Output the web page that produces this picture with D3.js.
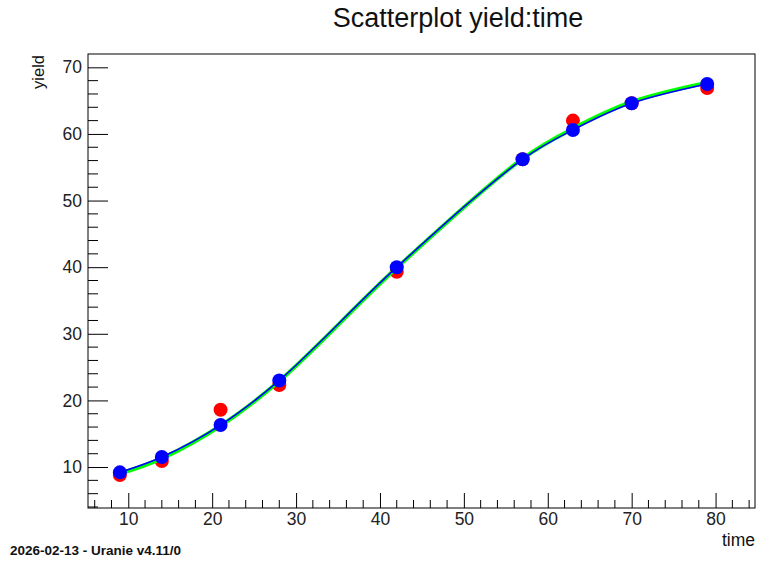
<!DOCTYPE html>
<html>
<head>
<meta charset="utf-8">
<script src="https://cdn.jsdelivr.net/npm/d3@7"></script>
<style>
  body { margin: 0; background: #fff; }
  text { font-family: "Liberation Sans", Arial, sans-serif; }
</style>
</head>
<body>
<div id="chart"></div>
<script>
var w = 757;
var h = 563;

// data
var times = [9, 14, 21, 28, 42, 57, 63, 70, 79];
var yieldObs = [8.8, 10.9, 18.6, 22.3, 39.3, 56.2, 62.0, 64.6, 66.9];
var yieldPred = [9.2, 11.5, 16.3, 23.0, 40.0, 56.2, 60.6, 64.6, 67.5];
var yieldFit = [9.0, 11.3, 16.2, 22.9, 39.9, 56.3, 60.8, 64.8, 67.7];
var xTicks = [10, 20, 30, 40, 50, 60, 70, 80];
var yTicks = [10, 20, 30, 40, 50, 60, 70];

var padL = 88, padR = 755, padT = 54, padB = 508;

var x = d3.scaleLinear().domain([5.2, 84.7]).range([padL, padR]);
var y = d3.scaleLinear().domain([3.85, 72]).range([padB, padT]);

var svg = d3.select("#chart")
    .append("svg")
    .attr("width", w)
    .attr("height", h);

// frame
svg.append("rect")
    .attr("x", padL)
    .attr("y", padT)
    .attr("width", padR - padL)
    .attr("height", padB - padT)
    .attr("fill", "none")
    .attr("stroke", "#000")
    .attr("stroke-width", 1);

// x axis, ticks inward
var xAxis = d3.axisBottom(x)
    .tickValues(xTicks)
    .tickSize(-15)
    .tickPadding(5)
    .tickFormat(d3.format("d"));
var gx = svg.append("g")
    .attr("transform", "translate(0," + padB + ")")
    .call(xAxis);
gx.select(".domain").remove();
gx.selectAll("text").attr("font-size", 17.5).attr("fill", "#222");

var xMinor = d3.range(6, 85, 2).filter(function(d) { return d % 10 != 0; });
svg.append("g").selectAll("line")
    .data(xMinor)
    .enter()
    .append("line")
    .attr("x1", function(d) { return x(d); })
    .attr("x2", function(d) { return x(d); })
    .attr("y1", padB)
    .attr("y2", padB - 8)
    .attr("stroke", "#000");

// y axis, ticks inward
var yAxis = d3.axisLeft(y)
    .tickValues(yTicks)
    .tickSize(-20)
    .tickPadding(6)
    .tickFormat(d3.format("d"));
var gy = svg.append("g")
    .attr("transform", "translate(" + padL + ",0)")
    .call(yAxis);
gy.select(".domain").remove();
gy.selectAll("text").attr("font-size", 17.5).attr("fill", "#222");

var yMinor = d3.range(4, 72, 2).filter(function(d) { return d % 10 != 0; });
svg.append("g").selectAll("line")
    .data(yMinor)
    .enter()
    .append("line")
    .attr("x1", padL)
    .attr("x2", padL + 10)
    .attr("y1", function(d) { return y(d); })
    .attr("y2", function(d) { return y(d); })
    .attr("stroke", "#000");

// observed points
svg.append("g").selectAll("circle")
    .data(times)
    .enter()
    .append("circle")
    .attr("cx", function(d) { return x(d); })
    .attr("cy", function(d, i) { return y(yieldObs[i]); })
    .attr("r", 7)
    .attr("fill", "#ff0000");

var fitLine = d3.line()
    .x(function(d) { return x(d); })
    .y(function(d, i) { return y(yieldFit[i]); })
    .curve(d3.curveCatmullRom);
svg.append("path")
    .attr("d", fitLine(times))
    .attr("fill", "none")
    .attr("stroke", "#00ff00")
    .attr("stroke-width", 4);

var predLine = d3.line()
    .x(function(d) { return x(d); })
    .y(function(d, i) { return y(yieldPred[i]); })
    .curve(d3.curveCatmullRom);
svg.append("path")
    .attr("d", predLine(times))
    .attr("fill", "none")
    .attr("stroke", "#0000ff")
    .attr("stroke-width", 1.6);

svg.append("g").selectAll("circle")
    .data(times)
    .enter()
    .append("circle")
    .attr("cx", function(d) { return x(d); })
    .attr("cy", function(d, i) { return y(yieldPred[i]); })
    .attr("r", 7)
    .attr("fill", "#0000ff");

// texts
svg.append("text")
    .attr("x", 458)
    .attr("y", 27)
    .attr("text-anchor", "middle")
    .attr("font-size", 27)
    .attr("fill", "#111")
    .text("Scatterplot yield:time");

svg.append("text")
    .attr("transform", "translate(44,55) rotate(-90)")
    .attr("text-anchor", "end")
    .attr("font-size", 16.5)
    .attr("fill", "#111")
    .text("yield");

svg.append("text")
    .attr("x", 755)
    .attr("y", 546)
    .attr("text-anchor", "end")
    .attr("font-size", 17.5)
    .attr("fill", "#111")
    .text("time");

svg.append("text")
    .attr("x", 10)
    .attr("y", 555)
    .attr("font-size", 13.5)
    .attr("font-weight", "bold")
    .attr("fill", "#111")
    .text("2026-02-13 - Uranie v4.11/0");
</script>
</body>
</html>
